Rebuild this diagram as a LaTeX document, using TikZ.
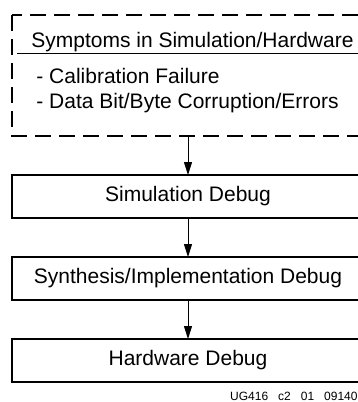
\documentclass[tikz,border=0pt]{standalone}
\usepackage{fontspec}
\setmainfont{Liberation Sans}
\usetikzlibrary{arrows.meta,chains,positioning}
\tikzset{
    debug block/.style = {
        minimum width=176pt,
        minimum height=21.5pt,
        inner sep=0pt,
        font=\fontsize{10.5}{12}\selectfont,
        },
    symptom block/.style = {
        minimum width=176pt,
        minimum height=60.5pt,
        inner sep=0pt,
        },
    frame/.style = {
        line width=1pt,
        },
    dashed frame/.style = {
        line width=1pt,
        dash pattern=on 8pt off 4pt,
        },
    symptom text/.style = {
        anchor=base west,
        inner sep=0pt,
        font=\fontsize{10.5}{12}\selectfont,
        },
    flow arrow/.style = {
        line width=0.5pt,
        -{Triangle[length=6.5pt, width=4pt]},
        },
    %figure id
    fig id/.style = {
        anchor=east,
        inner sep=0pt,
        font=\fontsize{6}{7}\selectfont,
        execute at begin node={\spaceskip=5pt\relax},
        },
}
\begin{document}
\begin{tikzpicture}[
            x=0.5pt, y=-0.5pt,
            start chain = going below,
            every on chain/.style={outer sep=0pt},
            node distance=19.5pt
            ]
            \useasboundingbox (0,0) rectangle (358,402);
            \clip (0,0) rectangle (358,402);

            \node [symptom block, on chain] (sym) at (188,75.5) {};
            \node [debug block, on chain] (sim) {Simulation Debug};
            \node [debug block, on chain] (synth) {Synthesis/Implementation Debug};
            \node [debug block, on chain] (hw) {Hardware Debug};

            % frames run on past the right edge of the figure
            \draw[dashed frame] (sym.north west) rectangle ([xshift=30pt]sym.south east);
            \foreach \blk in {sim,synth,hw}
                \draw[frame] (\blk.north west) rectangle ([xshift=30pt]\blk.south east);

            % contents of the dashed box
            \node [symptom text] (title) at (31,47) {Symptoms in Simulation/Hardware};
            \coordinate (rule start) at (17,53);
            \draw[line width=0.5pt] (rule start) -- ([xshift=30pt]rule start -| sym.east);
            \node [symptom text] (calib) at (36,83) {- Calibration Failure};
            \node [symptom text] (corrupt) at (36,108) {- Data Bit/Byte Corruption/Errors};

            \draw[flow arrow] (sym) -- (sim);
            \draw[flow arrow] (sim) -- (synth);
            \draw[flow arrow] (synth) -- (hw);

            \node [fig id] (id) at (358,396) {UG416 c2 01 09140};
        \end{tikzpicture}
\end{document}
